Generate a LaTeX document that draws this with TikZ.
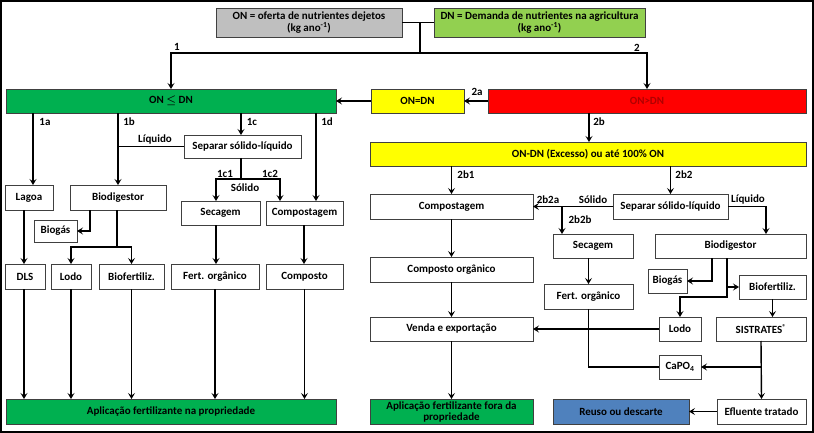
\documentclass[tikz,border=0pt]{standalone}
\usepackage{fontspec}
\setmainfont{Carlito}
\usetikzlibrary{arrows.meta}
\definecolor{cgray}{HTML}{BFBFBF}
\definecolor{clgreen}{HTML}{92D050}
\definecolor{cgreen}{HTML}{00B050}
\definecolor{cyellow}{HTML}{FFFF00}
\definecolor{cred}{HTML}{FF0000}
\definecolor{cdred}{HTML}{B00000}
\definecolor{cblue}{HTML}{4F81BD}
\definecolor{cborder}{HTML}{404040}
\newcommand\mybox[7]{%
  \node[#1, minimum width={(#5-#3)*1pt}, minimum height={(#6-#4)*1pt}] (#2) at ({(#3+#5)/2},{(#4+#6)/2}) {#7};}
\tikzset{
  box/.style={draw=cborder, line width=0.9pt, fill=white, inner sep=0pt, outer sep=0pt, align=center, font=\bfseries\fontsize{11}{12.5}\selectfont},
  ln/.style={line width=1.4pt, black},
  arr/.style={ln, -{Stealth[length=6pt,width=7pt,inset=2.5pt]}},
  lbl/.style={font=\bfseries\fontsize{11}{12}\selectfont, inner sep=0pt}
}
\begin{document}
\begin{tikzpicture}[x=1pt,y=-1pt]
\useasboundingbox (0,0) rectangle (814,433);
\fill[white] (0,0) rectangle (814,433);
\draw[line width=2pt] (1,1) rectangle (813,432);

% top
\mybox{box, fill=cgray}{on}{216}{8}{402}{37}{ON = oferta de nutrientes dejetos\\(kg ano\textsuperscript{-1})}
\mybox{box, fill=clgreen}{dn}{434}{8}{645}{37}{DN = Demanda de nutrientes na agricultura\\(kg ano\textsuperscript{-1})}

\mybox{box, fill=cgreen}{onle}{6}{89}{336}{113}{ON {\boldmath$\leq$} DN}
\mybox{box, fill=cyellow}{oneq}{371}{89}{464}{113}{ON=DN}
\mybox{box, fill=cred, text=cdred}{ongt}{488}{89}{806}{113}{ON>DN}
\mybox{box, fill=cyellow}{exc}{370}{142}{806}{166}{ON-DN (Excesso) ou até 100\% ON}

% left
\mybox{box}{sepL}{184}{135}{301}{158}{Separar sólido-líquido}
\mybox{box}{lagoa}{5}{185}{53}{210}{Lagoa}
\mybox{box}{biodL}{70}{185}{166}{210}{Biodigestor}
\mybox{box}{biogasL}{34}{220}{77}{242}{Biogás}
\mybox{box}{secL}{181}{201}{260}{225}{Secagem}
\mybox{box}{compL}{266}{201}{343}{225}{Compostagem}
\mybox{box}{dls}{5}{264}{45}{289}{DLS}
\mybox{box}{lodoL}{51}{264}{91}{289}{Lodo}
\mybox{box}{biofL}{99}{264}{164}{289}{Biofertiliz.}
\mybox{box}{fertL}{171}{264}{259}{289}{Fert. orgânico}
\mybox{box}{compostoL}{266}{264}{343}{289}{Composto}
\mybox{box, fill=cgreen}{aplL}{6}{399}{336}{424}{Aplicação fertilizante na propriedade}

% right
\mybox{box}{compR}{370}{194}{533}{219}{Compostagem}
\mybox{box}{sepR}{613}{194}{728}{219}{Separar sólido-líquido}
\mybox{box}{secR}{553}{234}{633}{258}{Secagem}
\mybox{box}{biodR}{655}{234}{806}{258}{Biodigestor}
\mybox{box}{compoR}{370}{257}{533}{282}{Composto orgânico}
\mybox{box}{fertR}{544}{284}{633}{309}{Fert. orgânico}
\mybox{box}{biogasR}{648}{269}{687}{293}{Biogás}
\mybox{box}{biofR}{739}{275}{806}{299}{Biofertiliz.}
\mybox{box}{lodoR}{659}{317}{701}{341}{Lodo}
\mybox{box}{sisR}{716}{317}{806}{341}{SISTRATES\textsuperscript{\scriptsize ®}}
\mybox{box}{vendaR}{370}{317}{533}{341}{Venda e exportação}
\mybox{box}{capo}{659}{355}{701}{379}{CaPO\textsubscript{4}}
\mybox{box}{efl}{717}{399}{806}{424}{Efluente tratado}
\mybox{box, fill=cblue}{reuso}{553}{399}{689}{424}{Reuso ou descarte}
\mybox{box, fill=cgreen, font=\bfseries\fontsize{11}{11}\selectfont}{aplR}{370}{399}{533}{424}{Aplicação fertilizante fora da\\propriedade}

% top connectors
\coordinate (split) at (420,53);
\draw[ln] (on.east) -- (dn.west);
\draw[ln] (on.east -| split) -- (split);
\draw[arr] (split) -| (onle.north);
\draw[arr] (split) -| (ongt.north);
\node[lbl] (l1) at (177,47) {1};
\node[lbl] (l2) at (637,48) {2};

\draw[arr] (ongt.west) -- (oneq.east);
\node[lbl] (l2a) at (477,92) {2a};
\draw[arr] (oneq.west) -- (onle.east);
\draw[arr] (ongt.south -| 589,0) -- (exc.north -| 589,0);
\node[lbl] (l2b) at (599,122) {2b};

% left connectors
\draw[arr] (onle.south -| 33,0) -- (lagoa.north -| 33,0);
\node[lbl] (l1a) at (45,122) {1a};
\draw[arr] (onle.south -| 118,0) -- (biodL.north -| 118,0);
\node[lbl] (l1b) at (129,122) {1b};
\draw[ln] (sepL.west) -- (sepL.west -| 118,0);
\node[lbl] (lliq) at (155,140) {Líquido};
\draw[arr] (onle.south -| 241,0) -- (sepL.north -| 241,0);
\node[lbl] (l1c) at (252,122) {1c};
\draw[arr] (onle.south -| 316,0) -- (compL.north -| 316,0);
\node[lbl] (l1d) at (327,122) {1d};

\coordinate (sj) at (241,179);
\draw[ln] (sepL.south -| sj) -- (sj);
\draw[arr] (sj) -| (secL.north -| 216,0);
\draw[arr] (sj) -| (compL.north -| 280,0);
\node[lbl] (l1c1) at (225,174) {1c1};
\node[lbl] (l1c2) at (270,174) {1c2};
\node[lbl] (lsol) at (245,188) {Sólido};

\draw[arr] (lagoa.south -| 24,0) -- (dls.north -| 24,0);
\draw[arr] (biodL.south -| 90,0) |- (biogasL.east);
\coordinate (bj) at (117,247);
\draw[ln] (biodL.south -| bj) -- (bj);
\draw[arr] (bj) -| (lodoL.north);
\draw[arr] (bj) -| (biofL.north);
\draw[arr] (secL.south -| 216,0) -- (fertL.north -| 216,0);
\draw[arr] (compL.south -| 304,0) -- (compostoL.north -| 304,0);

\draw[arr] (dls.south -| 24,0) -- (aplL.north -| 24,0);
\draw[arr] (lodoL.south) -- (aplL.north -| lodoL.south);
\draw[arr] (biofL.south) -- (aplL.north -| biofL.south);
\draw[arr] (fertL.south) -- (aplL.north -| fertL.south);
\draw[arr] (compostoL.south) -- (aplL.north -| compostoL.south);

% right connectors
\draw[arr] (exc.south -| compR.north) -- (compR.north);
\node[lbl] (l2b1) at (466,175) {2b1};
\draw[arr] (exc.south -| sepR.north) -- (sepR.north);
\node[lbl] (l2b2) at (684,175) {2b2};
\draw[arr] (sepR.west) -- (compR.east);
\node[lbl] (l2b2a) at (548,200) {2b2a};
\node[lbl] (lsol2) at (593,200) {Sólido};
\draw[arr] (sepR.west -| 562,0) -- (secR.north -| 562,0);
\node[lbl] (l2b2b) at (580,220) {2b2b};
\draw[arr] (sepR.east) -| (biodR.north -| 766,0);
\node[lbl] (lliq2) at (748,200) {Líquido};

\draw[arr] (compR.south) -- (compoR.north);
\draw[arr] (compoR.south) -- (vendaR.north);
\draw[arr] (vendaR.south) -- (aplR.north);
\draw[arr] (secR.south -| fertR.north) -- (fertR.north);

\draw[arr] (biodR.south -| 712,0) |- (biogasR.east);
\draw[arr] (biodR.south -| 727,0) |- (biofR.west);
\coordinate (bj2) at (727,297);
\draw[arr] (biofR.west -| bj2) -- (bj2) -| (lodoR.north);
\draw[arr] (biofR.south) -- (sisR.north -| biofR.south);
\draw[arr] (lodoR.west) -- (vendaR.east);
\draw[arr] (sisR.south) -- (efl.north);
\draw[arr] (sisR.south |- capo.east) -- (capo.east);
\draw[ln] (fertR.south) |- (capo.west);
\draw[arr] (efl.west) -- (reuso.east);
\end{tikzpicture}
\end{document}
